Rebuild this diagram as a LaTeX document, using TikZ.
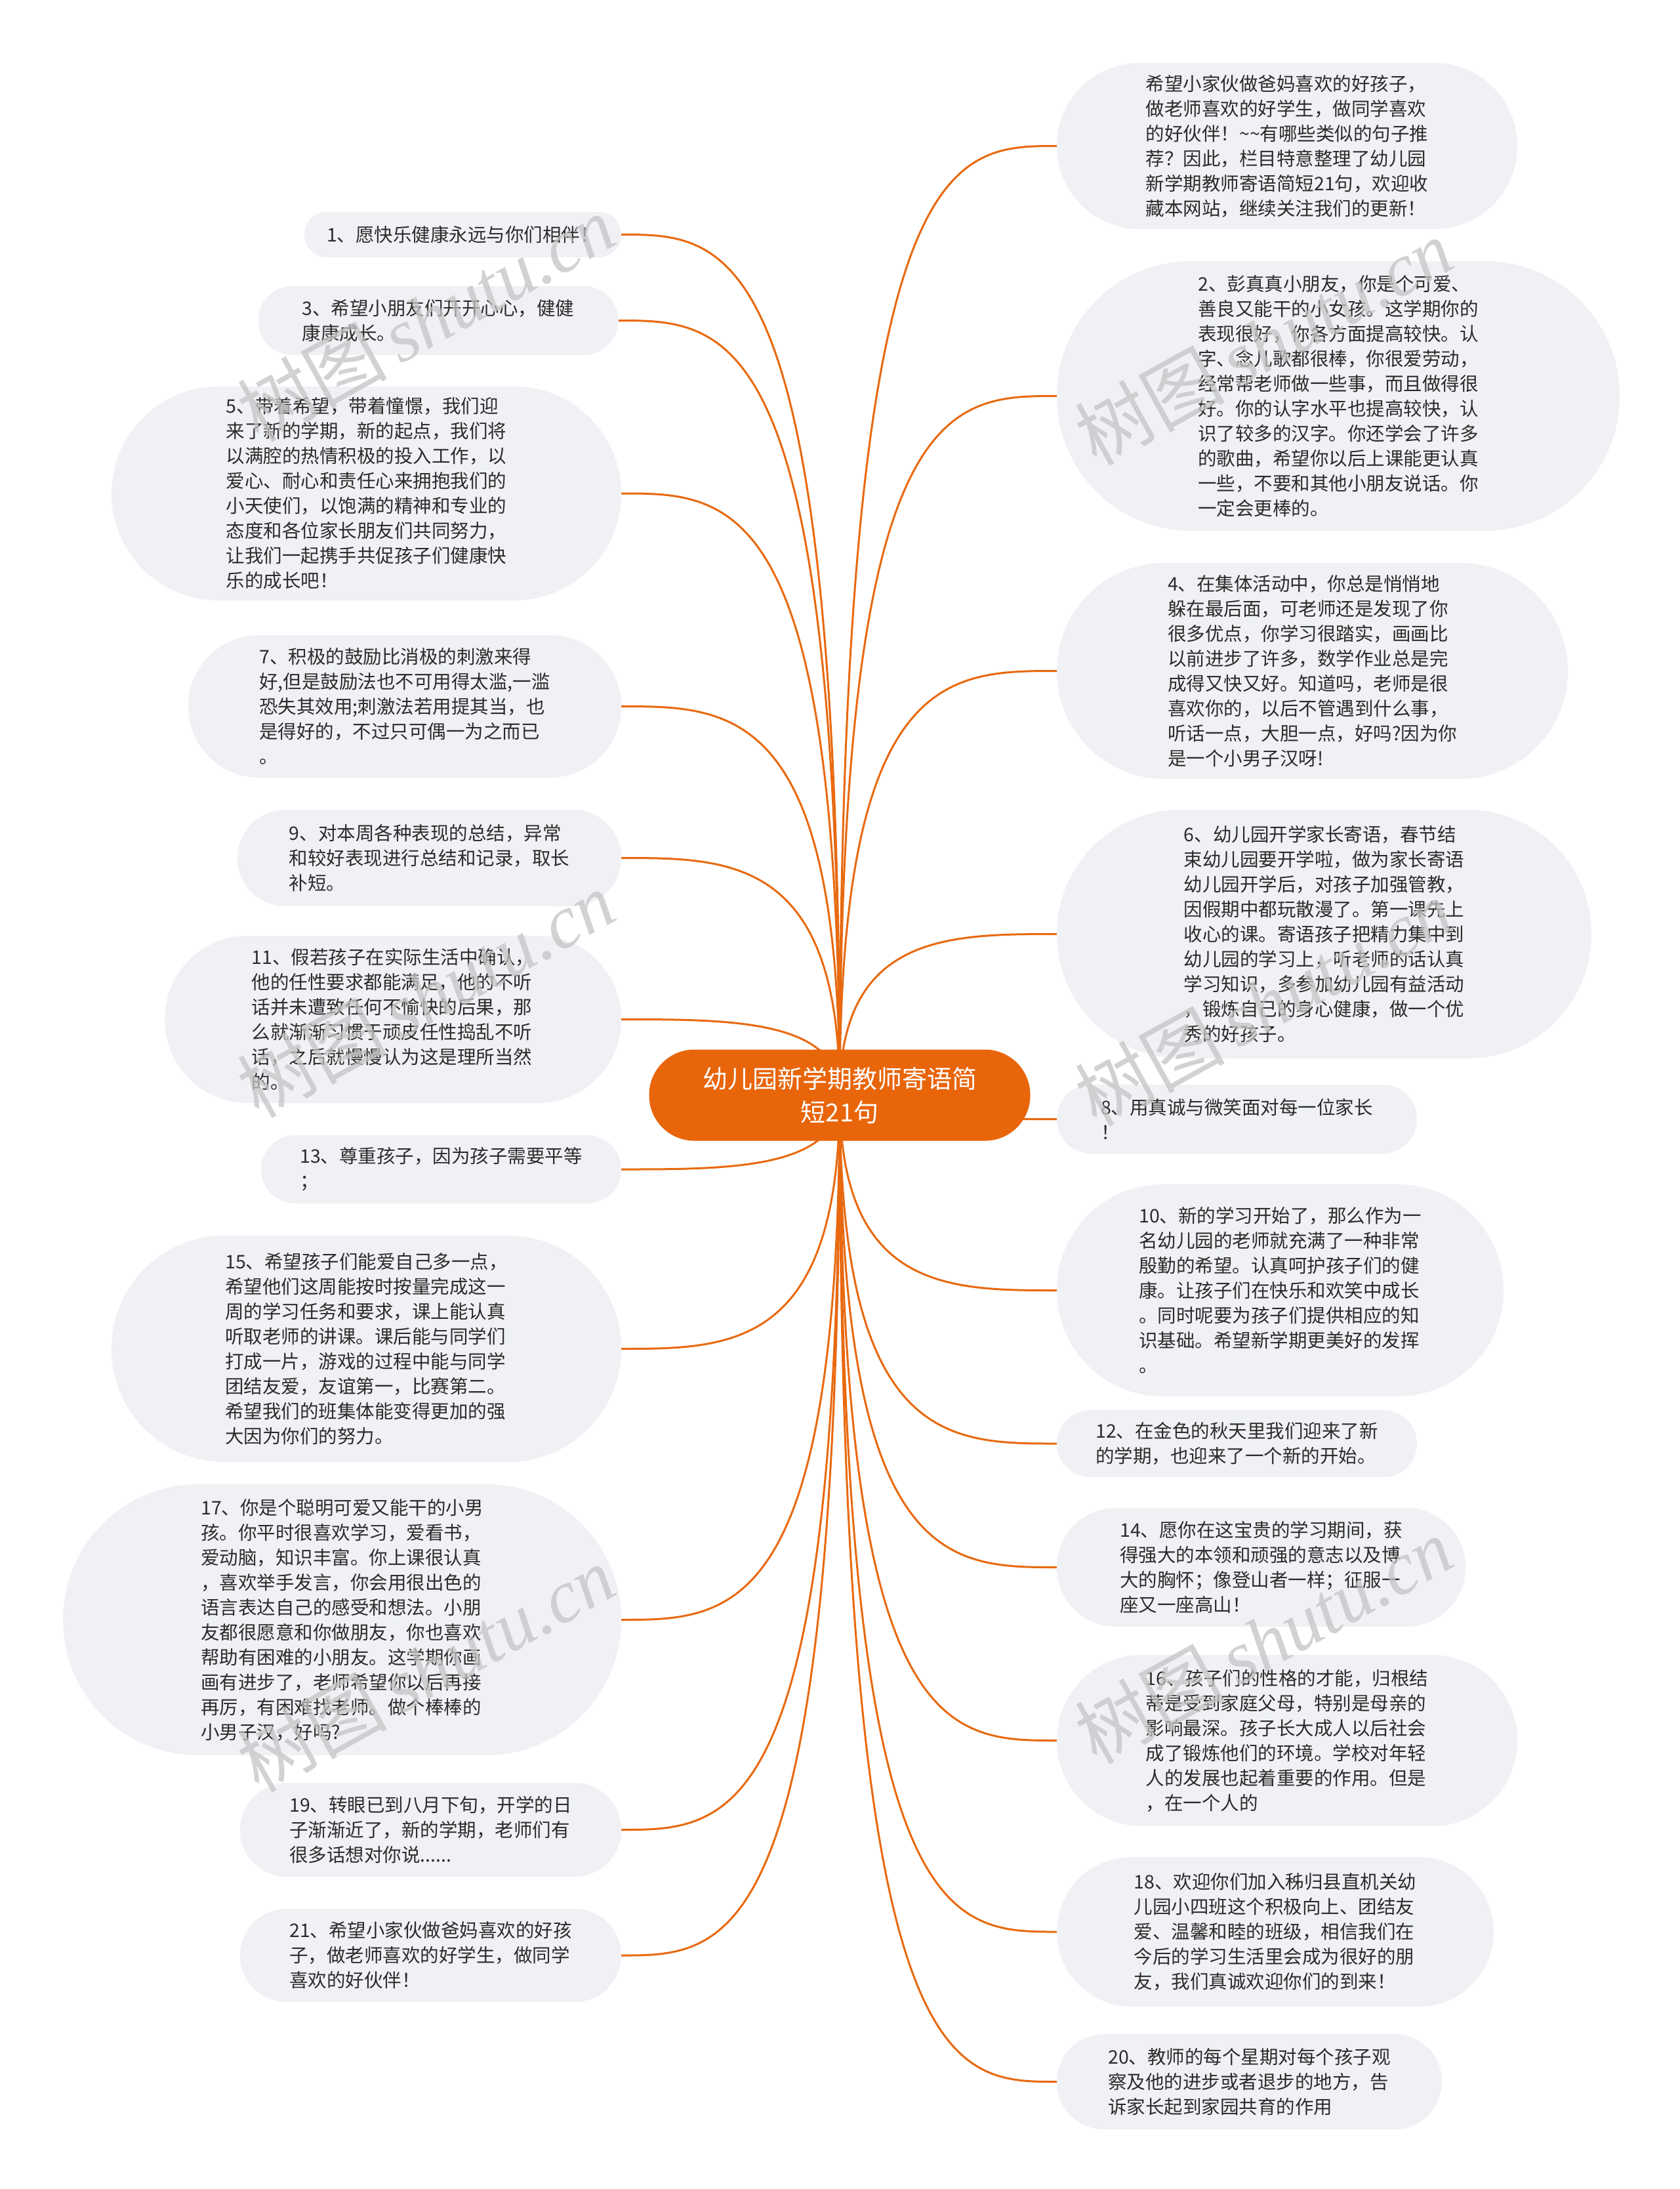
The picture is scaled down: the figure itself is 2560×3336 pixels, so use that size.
\documentclass[tikz,border=0pt]{standalone}
\usepackage{fontspec}
\newfontfamily\cjk{Noto Sans CJK SC}
\newfontfamily\wmserif{Liberation Serif}
\usetikzlibrary{calc}
\definecolor{boxfill}{HTML}{EFF1F4}
\definecolor{rootfill}{HTML}{E8650A}
\definecolor{edgec}{HTML}{E8690F}
\definecolor{txt}{HTML}{2B2B2B}
\definecolor{wmc}{HTML}{C4C4C4}
\pgfdeclarelayer{bg}
\pgfsetlayers{bg,main}
\newcommand\mmlink[2]{\draw[edge] (c.center) .. controls (c.center |- #1.#2) and ($(c.center |- #1.#2)!0.5!(#1.#2)$) .. (#1.#2);}
\tikzset{
  leaf/.style n args={3}{shape=rectangle, fill=boxfill, minimum width=#1, minimum height=#2,
    rounded corners=#3, align=left, inner sep=0pt, text=txt, font=\cjk\fontsize{28.5}{38}\selectfont},
  root/.style={shape=rectangle, fill=rootfill, minimum width=581pt, minimum height=139pt,
    rounded corners=69pt, align=center, inner sep=0pt, text=white, font=\cjk\fontsize{38}{51}\selectfont},
  edge/.style={draw=edgec, line width=3pt},
  wm/.style={text=wmc, opacity=0.75, rotate=29, inner sep=0pt, font=\cjk\fontsize{114}{120}\selectfont}
}
\begin{document}
\begin{tikzpicture}[x=1pt,y=-1pt]
\useasboundingbox (0,0) rectangle (2560,3336);
% central node
\node[root] (c) at (1280,1669) {幼儿园新学期教师寄语简\\短21句};
% left column
\node[leaf={483pt}{69pt}{34pt}] (n1) at (705.5,357.5) {1、愿快乐健康永远与你们相伴！};
\node[leaf={549pt}{105pt}{52pt}] (n3) at (668,488.5) {3、希望小朋友们开开心心，健健\\康康成长。};
\node[leaf={777pt}{326pt}{163pt}] (n5) at (558.5,752) {5、带着希望，带着憧憬，我们迎\\来了新的学期，新的起点，我们将\\以满腔的热情积极的投入工作，以\\爱心、耐心和责任心来拥抱我们的\\小天使们，以饱满的精神和专业的\\态度和各位家长朋友们共同努力，\\让我们一起携手共促孩子们健康快\\乐的成长吧！};
\node[leaf={660pt}{217pt}{108pt}] (n7) at (617,1076.5) {7、积极的鼓励比消极的刺激来得\\好,但是鼓励法也不可用得太滥,一滥\\恐失其效用;刺激法若用提其当，也\\是得好的，不过只可偶一为之而已\\。};
\node[leaf={585pt}{147pt}{73pt}] (n9) at (654.5,1307.5) {9、对本周各种表现的总结，异常\\和较好表现进行总结和记录，取长\\补短。};
\node[leaf={696pt}{255pt}{127pt}] (n11) at (599,1553.5) {11、假若孩子在实际生活中确认，\\他的任性要求都能满足，他的不听\\话并未遭致任何不愉快的后果，那\\么就渐渐习惯于顽皮任性捣乱不听\\话，之后就慢慢认为这是理所当然\\的。};
\node[leaf={549pt}{104pt}{52pt}] (n13) at (672.5,1782) {13、尊重孩子，因为孩子需要平等\\；};
\node[leaf={777pt}{345pt}{172pt}] (n15) at (558.5,2055.5) {15、希望孩子们能爱自己多一点，\\希望他们这周能按时按量完成这一\\周的学习任务和要求，课上能认真\\听取老师的讲课。课后能与同学们\\打成一片，游戏的过程中能与同学\\团结友爱，友谊第一，比赛第二。\\希望我们的班集体能变得更加的强\\大因为你们的努力。};
\node[leaf={851pt}{413pt}{206pt}] (n17) at (521.5,2468.5) {17、你是个聪明可爱又能干的小男\\孩。你平时很喜欢学习，爱看书，\\爱动脑，知识丰富。你上课很认真\\，喜欢举手发言，你会用很出色的\\语言表达自己的感受和想法。小朋\\友都很愿意和你做朋友，你也喜欢\\帮助有困难的小朋友。这学期你画\\画有进步了，老师希望你以后再接\\再厉，有困难找老师。做个棒棒的\\小男子汉，好吗?};
\node[leaf={581pt}{143pt}{71pt}] (n19) at (656.5,2788.5) {19、转眼已到八月下旬，开学的日\\子渐渐近了，新的学期，老师们有\\很多话想对你说......};
\node[leaf={581pt}{142pt}{71pt}] (n21) at (656.5,2980) {21、希望小家伙做爸妈喜欢的好孩\\子，做老师喜欢的好学生，做同学\\喜欢的好伙伴！};
% right column
\node[leaf={702pt}{253pt}{126pt}] (n0) at (1962,222.5) {希望小家伙做爸妈喜欢的好孩子，\\做老师喜欢的好学生，做同学喜欢\\的好伙伴！\textasciitilde\textasciitilde 有哪些类似的句子推\\荐？因此，栏目特意整理了幼儿园\\新学期教师寄语简短21句，欢迎收\\藏本网站，继续关注我们的更新！};
\node[leaf={858pt}{411pt}{205pt}] (n2) at (2040,603.5) {2、彭真真小朋友，你是个可爱、\\善良又能干的小女孩。这学期你的\\表现很好，你各方面提高较快。认\\字、念儿歌都很棒，你很爱劳动，\\经常帮老师做一些事，而且做得很\\好。你的认字水平也提高较快，认\\识了较多的汉字。你还学会了许多\\的歌曲，希望你以后上课能更认真\\一些，不要和其他小朋友说话。你\\一定会更棒的。};
\node[leaf={779pt}{329pt}{164pt}] (n4) at (2000.5,1022.5) {4、在集体活动中，你总是悄悄地\\躲在最后面，可老师还是发现了你\\很多优点，你学习很踏实，画画比\\以前进步了许多，数学作业总是完\\成得又快又好。知道吗，老师是很\\喜欢你的，以后不管遇到什么事，\\听话一点，大胆一点，好吗?因为你\\是一个小男子汉呀!};
\node[leaf={815pt}{379pt}{189pt}] (n6) at (2018.5,1423.5) {6、幼儿园开学家长寄语，春节结\\束幼儿园要开学啦，做为家长寄语\\幼儿园开学后，对孩子加强管教，\\因假期中都玩散漫了。第一课先上\\收心的课。寄语孩子把精力集中到\\幼儿园的学习上，听老师的话认真\\学习知识，多参加幼儿园有益活动\\，锻炼自己的身心健康，做一个优\\秀的好孩子。};
\node[leaf={549pt}{105pt}{52pt}] (n8) at (1885.5,1705.5) {8、用真诚与微笑面对每一位家长\\！};
\node[leaf={681pt}{323pt}{161pt}] (n10) at (1951.5,1966.5) {10、新的学习开始了，那么作为一\\名幼儿园的老师就充满了一种非常\\殷勤的希望。认真呵护孩子们的健\\康。让孩子们在快乐和欢笑中成长\\。同时呢要为孩子们提供相应的知\\识基础。希望新学期更美好的发挥\\。};
\node[leaf={549pt}{102pt}{51pt}] (n12) at (1885.5,2200) {12、在金色的秋天里我们迎来了新\\的学期，也迎来了一个新的开始。};
\node[leaf={623pt}{181pt}{90pt}] (n14) at (1922.5,2388.5) {14、愿你在这宝贵的学习期间，获\\得强大的本领和顽强的意志以及博\\大的胸怀；像登山者一样；征服一\\座又一座高山！};
\node[leaf={702pt}{261pt}{130pt}] (n16) at (1962,2652.5) {16、孩子们的性格的才能，归根结\\蒂是受到家庭父母，特别是母亲的\\影响最深。孩子长大成人以后社会\\成了锻炼他们的环境。学校对年轻\\人的发展也起着重要的作用。但是\\，在一个人的};
\node[leaf={666pt}{228pt}{114pt}] (n18) at (1944,2944) {18、欢迎你们加入秭归县直机关幼\\儿园小四班这个积极向上、团结友\\爱、温馨和睦的班级，相信我们在\\今后的学习生活里会成为很好的朋\\友，我们真诚欢迎你们的到来！};
\node[leaf={587pt}{145pt}{72pt}] (n20) at (1904.5,3172.5) {20、教师的每个星期对每个孩子观\\察及他的进步或者退步的地方，告\\诉家长起到家园共育的作用};
% connectors
\begin{pgfonlayer}{bg}
\fill[white] (0,0) rectangle (2560,3336);
\mmlink{n1}{east}
\mmlink{n3}{east}
\mmlink{n5}{east}
\mmlink{n7}{east}
\mmlink{n9}{east}
\mmlink{n11}{east}
\mmlink{n13}{east}
\mmlink{n15}{east}
\mmlink{n17}{east}
\mmlink{n19}{east}
\mmlink{n21}{east}
\mmlink{n0}{west}
\mmlink{n2}{west}
\mmlink{n4}{west}
\mmlink{n6}{west}
\mmlink{n8}{west}
\mmlink{n10}{west}
\mmlink{n12}{west}
\mmlink{n14}{west}
\mmlink{n16}{west}
\mmlink{n18}{west}
\mmlink{n20}{west}
\end{pgfonlayer}
% watermarks
\node[wm] (w1) at (649,485) {树图\,{\wmserif\itshape shutu.cn}};
\node[wm] (w2) at (1926,521) {树图\,{\wmserif\itshape shutu.cn}};
\node[wm] (w3) at (649,1515) {树图\,{\wmserif\itshape shutu.cn}};
\node[wm] (w4) at (1926,1528) {树图\,{\wmserif\itshape shutu.cn}};
\node[wm] (w5) at (649,2543) {树图\,{\wmserif\itshape shutu.cn}};
\node[wm] (w6) at (1926,2500) {树图\,{\wmserif\itshape shutu.cn}};
\end{tikzpicture}
\end{document}
